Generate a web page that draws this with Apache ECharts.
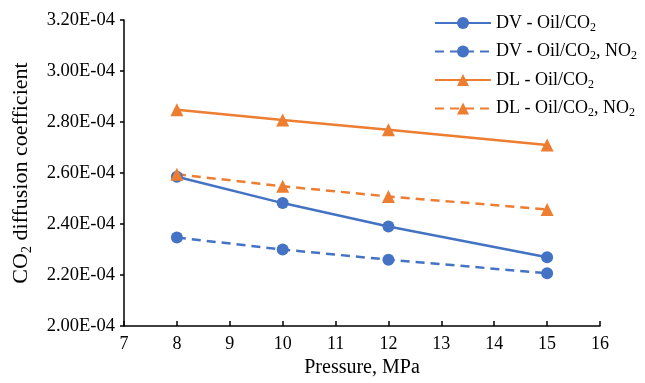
<!DOCTYPE html>
<html><head><meta charset="utf-8">
<script src="https://cdn.jsdelivr.net/npm/echarts@6/dist/echarts.min.js"></script>
<style>html,body{margin:0;padding:0;background:#fff}#c{width:645px;height:383px}</style>
</head><body><div id="c"></div>
<script>
const pressure = [8, 10, 12, 15];
const dvOil = [2.585e-4, 2.482e-4, 2.390e-4, 2.270e-4];
const dvOilNO2 = [2.347e-4, 2.300e-4, 2.260e-4, 2.207e-4];
const dlOil = [2.848e-4, 2.808e-4, 2.770e-4, 2.710e-4];
const dlOilNO2 = [2.595e-4, 2.548e-4, 2.508e-4, 2.457e-4];
const names = ['DV - Oil/CO2', 'DV - Oil/CO2, NO2', 'DL - Oil/CO2', 'DL - Oil/CO2, NO2'];
const legendRich = {
  'DV - Oil/CO2': '{a|DV - Oil/CO}{s|2}',
  'DV - Oil/CO2, NO2': '{a|DV - Oil/CO}{s|2}{a|, NO}{s|2}',
  'DL - Oil/CO2': '{a|DL - Oil/CO}{s|2}',
  'DL - Oil/CO2, NO2': '{a|DL - Oil/CO}{s|2}{a|, NO}{s|2}'
};
const blue = '#4472C4', orange = '#ED7D31';
const font = 'Liberation Serif';
function pairs(v){ return pressure.map((p,i)=>[p, v[i]]); }
function ser(name, vals, color, dashed, symbol, size){
  return {name, type:'line', data:pairs(vals), symbol, symbolSize:size,
    lineStyle:{color, width:2.5, type: dashed ? [9,6] : 'solid'},
    itemStyle:{color}, emphasis:{disabled:true}};
}
function fmtY(v){
  const s = v.toExponential(2).toUpperCase();
  return s.replace(/E-(\d)$/, 'E-0$1');
}
const chart = echarts.init(document.getElementById('c'));
chart.setOption({
  animation:false,
  grid:{left:124, right:45, top:20, bottom:52},
  legend:{
    orient:'vertical', right:3, top:9, itemWidth:56, itemHeight:15, itemGap:9,
    data:names,
    formatter: n => legendRich[n],
    textStyle:{fontFamily:font, fontSize:18, color:'#000',
      rich:{a:{fontFamily:font, fontSize:18, color:'#000'},
            s:{fontFamily:font, fontSize:12, color:'#000', padding:[9,0,0,0]}}}
  },
  xAxis:{type:'value', min:7, max:16, interval:1,
    name:'Pressure, MPa', nameLocation:'middle', nameGap:32,
    nameTextStyle:{fontFamily:font, fontSize:20, color:'#000'},
    axisLine:{lineStyle:{color:'#000', width:1.5}},
    axisTick:{inside:true, length:5, lineStyle:{color:'#000', width:1.5}},
    axisLabel:{fontFamily:font, fontSize:18, color:'#000', margin:9},
    splitLine:{show:false}},
  yAxis:{type:'value', min:0.0002, max:0.00032, interval:0.00002,
    name:'{a|CO}{s|2}{a| diffusion coefficient}', nameLocation:'middle', nameGap:90,
    nameTextStyle:{fontFamily:font, fontSize:22, color:'#000',
      rich:{a:{fontFamily:font, fontSize:22, color:'#000'},
            s:{fontFamily:font, fontSize:14, color:'#000', padding:[11,0,0,0]}}},
    axisLine:{show:true, lineStyle:{color:'#000', width:1.5}},
    axisTick:{show:true, inside:false, length:4, lineStyle:{color:'#000', width:1.5}},
    axisLabel:{fontFamily:font, fontSize:18.5, color:'#000', margin:9, formatter:fmtY},
    splitLine:{show:false}},
  series:[
    ser(names[0], dvOil, blue, false, 'circle', 12),
    ser(names[1], dvOilNO2, blue, true, 'circle', 12),
    ser(names[2], dlOil, orange, false, 'triangle', 13),
    ser(names[3], dlOilNO2, orange, true, 'triangle', 13)
  ]
});
</script></body></html>
